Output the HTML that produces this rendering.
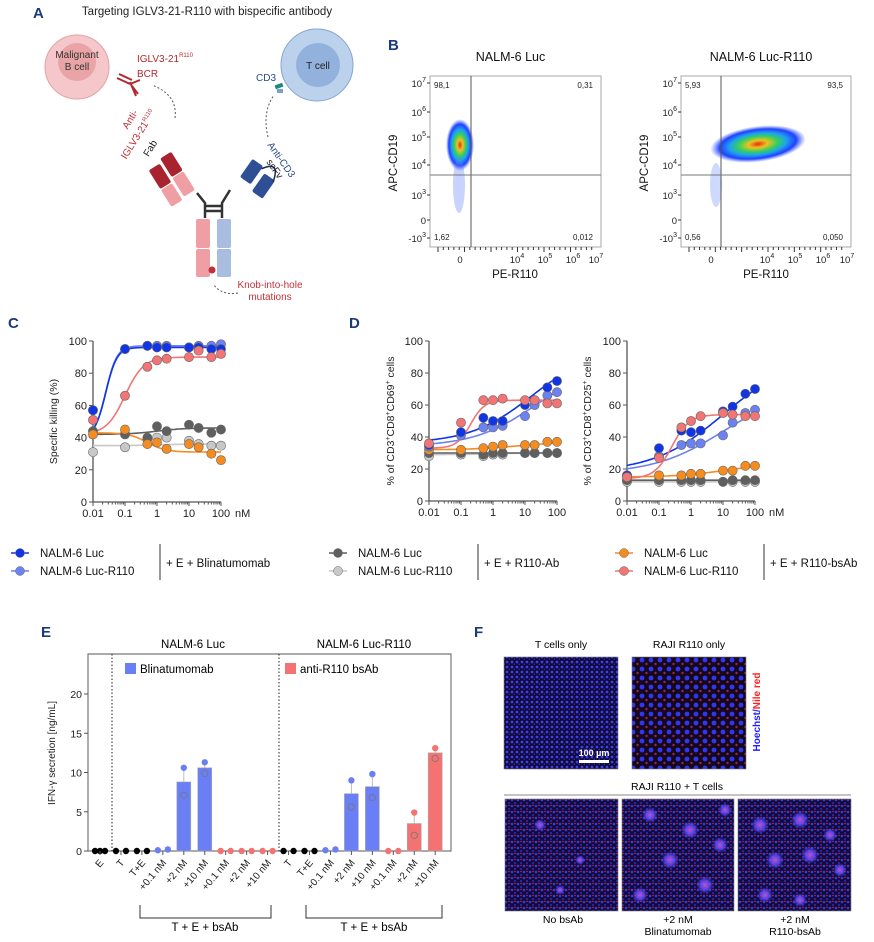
<!DOCTYPE html>
<html><head><meta charset="utf-8"><style>
html,body{margin:0;padding:0;background:#fff}
svg{display:block;font-family:"Liberation Sans",Arial,sans-serif}
</style></head><body>
<svg id="fig" width="874" height="942" viewBox="0 0 874 942" xmlns="http://www.w3.org/2000/svg">
<defs>
<pattern id="pT" width="5" height="5" patternUnits="userSpaceOnUse"><rect width="5" height="5" fill="#120a2a"/><circle cx="2" cy="2" r="1.4" fill="#3a3cff"/><circle cx="4.5" cy="4.3" r="0.9" fill="#2a2ad0"/></pattern>
<pattern id="pR" width="9" height="9" patternUnits="userSpaceOnUse"><rect width="9" height="9" fill="#14081a"/><circle cx="3" cy="3" r="2.4" fill="#3335f5"/><circle cx="7.5" cy="7" r="1.2" fill="#a0205a"/></pattern>
<pattern id="pM" width="6" height="6" patternUnits="userSpaceOnUse"><rect width="6" height="6" fill="#160a36"/><circle cx="2" cy="2" r="1.3" fill="#3438ee"/><circle cx="5" cy="5" r="1" fill="#2830c0"/><circle cx="5" cy="1.5" r="0.7" fill="#d0304a"/></pattern>
<radialGradient id="blob" cx="50%" cy="50%" r="50%"><stop offset="0" stop-color="#c050d0"/><stop offset="0.5" stop-color="#6a50ff" stop-opacity="0.8"/><stop offset="1" stop-color="#4040ff" stop-opacity="0"/></radialGradient>
<radialGradient id="flow" cx="50%" cy="50%" r="50%"><stop offset="0" stop-color="#e03010"/><stop offset="0.2" stop-color="#f0c020"/><stop offset="0.42" stop-color="#30d060"/><stop offset="0.6" stop-color="#20a0f0"/><stop offset="0.8" stop-color="#2040ff"/><stop offset="1" stop-color="#4060ff" stop-opacity="0"/></radialGradient>
</defs>

<!-- Panel A -->
<g>
<text x="33" y="18" font-size="15" font-weight="bold" fill="#1a3a7a">A</text>
<text x="207" y="15" font-size="11.5" text-anchor="middle" fill="#222">Targeting IGLV3-21-R110 with bispecific antibody</text>
<g>
<circle cx="77" cy="67" r="32" fill="#f6c7ca" stroke="#e2a2a6"/>
<circle cx="77" cy="62" r="19" fill="#e9a4a8"/>
<text x="77" y="58" font-size="10" text-anchor="middle" fill="#333">Malignant</text>
<text x="77" y="70" font-size="10" text-anchor="middle" fill="#333">B cell</text>
</g>
<g stroke="#b02a30" stroke-width="2" fill="none">
<path d="M117 78 L130 84 M119 74 L132 80 M130 84 L140 80 M132 86 L138 94 M130 82 L136 96"/>
</g>
<text x="137" y="62" font-size="10" fill="#b02a30">IGLV3-21<tspan font-size="6" dy="-5">R110</tspan></text>
<text x="137" y="77" font-size="10" fill="#b02a30">BCR</text>
<g>
<circle cx="317" cy="65" r="36" fill="#bcd1ec" stroke="#84a6d2"/>
<circle cx="318" cy="65" r="22" fill="#92b2dd"/>
<text x="318" y="69" font-size="10" text-anchor="middle" fill="#222">T cell</text>
</g>
<text x="256" y="81" font-size="10" fill="#2a4a8a">CD3</text>
<rect x="275" y="84" width="8" height="4" fill="#1e8a7a" transform="rotate(-20 279 86)"/>
<rect x="277" y="89" width="6" height="4" fill="#7aa0d0"/>
<path d="M175 118 Q178 95 152 85" stroke="#555" stroke-dasharray="2,2" fill="none"/>
<path d="M268 137 Q262 112 274 95" stroke="#555" stroke-dasharray="2,2" fill="none"/>
<path d="M238 293 Q222 296 213 284" stroke="#555" stroke-dasharray="2,2" fill="none"/>
<g>
<g transform="rotate(-32 190 180)">
<rect x="160" y="150" width="13" height="22" fill="#a8232e" rx="2"/>
<rect x="160" y="173" width="13" height="20" fill="#ef9fa3" rx="2"/>
<rect x="176" y="146" width="13" height="22" fill="#a8232e" rx="2"/>
<rect x="176" y="169" width="13" height="22" fill="#ef9fa3" rx="2"/>
</g>
<path d="M197 193 L205 203 L205 218 M230 190 L222 203 L222 218 M205 206 L222 206 M205 211 L222 211" stroke="#333" stroke-width="2.5" fill="none"/>
<g transform="rotate(35 255 185)">
<rect x="238" y="165" width="13" height="22" fill="#2f4f95" rx="2"/>
<rect x="256" y="170" width="13" height="22" fill="#2f4f95" rx="2"/>
<path d="M251 168 Q262 150 268 172" stroke="#1a2a55" stroke-width="1.5" fill="none"/>
</g>
<rect x="196" y="219" width="14" height="29" fill="#ef9fa3" rx="2"/>
<rect x="196" y="249" width="14" height="28" fill="#ef9fa3" rx="2"/>
<rect x="217" y="219" width="14" height="29" fill="#a9bde0" rx="2"/>
<rect x="217" y="249" width="14" height="28" fill="#a9bde0" rx="2"/>
<circle cx="212" cy="270" r="3.5" fill="#c0303a"/>
</g>
<text transform="translate(133 121) rotate(-58)" font-size="10" text-anchor="middle" fill="#c0303a">Anti-</text>
<text transform="translate(141 136) rotate(-58)" font-size="10" text-anchor="middle" fill="#c0303a">IGLV3-21<tspan font-size="6" dy="-4">R110</tspan></text>
<text transform="translate(153 150) rotate(-58)" font-size="10" text-anchor="middle" fill="#222">Fab</text>
<text transform="translate(267 145) rotate(55)" font-size="10" fill="#2a4a8a">Anti-CD3</text>
<text transform="translate(266 162) rotate(55)" font-size="10" fill="#222">scFv</text>
<text x="270" y="288" font-size="10" text-anchor="middle" fill="#c0303a">Knob-into-hole</text>
<text x="270" y="300" font-size="10" text-anchor="middle" fill="#c0303a">mutations</text>
</g>

<!-- Panel B -->
<g id="panelB">
<text x="388" y="50" font-size="15" font-weight="bold" fill="#1a3a7a">B</text>
</g>
<g id="panelC">
<text x="8" y="328" font-size="15" font-weight="bold" fill="#1a3a7a">C</text>
</g>
<g id="panelD">
<text x="349" y="328" font-size="15" font-weight="bold" fill="#1a3a7a">D</text>
</g>
<g id="legend"></g>
<g id="panelE">
<text x="41" y="637" font-size="15" font-weight="bold" fill="#1a3a7a">E</text>
</g>

<!-- Panel F -->
<g>
<text x="474" y="637" font-size="15" font-weight="bold" fill="#1a3a7a">F</text>
<text x="561" y="648" font-size="10.5" text-anchor="middle">T cells only</text>
<text x="689" y="648" font-size="10.5" text-anchor="middle">RAJI R110 only</text>
<rect x="504" y="657" width="114" height="112" fill="url(#pT)" stroke="#777" stroke-width="0.6"/>
<rect x="632" y="657" width="114" height="112" fill="url(#pR)" stroke="#777" stroke-width="0.6"/>
<text x="594" y="756" font-size="9" font-weight="bold" fill="#fff" text-anchor="middle">100 µm</text>
<rect x="579" y="760" width="30" height="3" fill="#fff"/>
<text transform="translate(760 712) rotate(-90)" font-size="10" font-weight="bold" text-anchor="middle"><tspan fill="#2020ff">Hoechst/</tspan><tspan fill="#ff2020">Nile red</tspan></text>
<text x="677" y="790" font-size="10.5" text-anchor="middle">RAJI R110 + T cells</text>
<line x1="504" y1="795" x2="851" y2="795" stroke="#888"/>
<rect x="505" y="799" width="113" height="112" fill="url(#pM)" stroke="#777" stroke-width="0.6"/>
<rect x="622" y="799" width="112" height="112" fill="url(#pM)" stroke="#777" stroke-width="0.6"/>
<rect x="738" y="799" width="113" height="112" fill="url(#pM)" stroke="#777" stroke-width="0.6"/>
<g fill="url(#blob)">
<circle cx="540" cy="825" r="6"/><circle cx="580" cy="860" r="5"/><circle cx="560" cy="890" r="5"/>
<circle cx="650" cy="815" r="8"/><circle cx="690" cy="830" r="9"/><circle cx="670" cy="860" r="9"/><circle cx="720" cy="845" r="8"/><circle cx="705" cy="885" r="9"/><circle cx="640" cy="895" r="8"/><circle cx="725" cy="810" r="7"/>
<circle cx="760" cy="825" r="9"/><circle cx="800" cy="820" r="9"/><circle cx="810" cy="855" r="9"/><circle cx="775" cy="860" r="9"/><circle cx="840" cy="870" r="7"/><circle cx="765" cy="895" r="8"/><circle cx="830" cy="835" r="7"/><circle cx="800" cy="900" r="7"/>
</g>
<text x="563" y="923" font-size="10.5" text-anchor="middle">No bsAb</text>
<text x="678" y="923" font-size="10.5" text-anchor="middle">+2 nM</text>
<text x="678" y="935" font-size="10.5" text-anchor="middle">Blinatumomab</text>
<text x="795" y="923" font-size="10.5" text-anchor="middle">+2 nM</text>
<text x="795" y="935" font-size="10.5" text-anchor="middle">R110-bsAb</text>
</g>
</svg>
<script>
const NS = "http://www.w3.org/2000/svg";
function mk(tag, attrs, parent, txt){const e=document.createElementNS(NS,tag);for(const k in attrs)e.setAttribute(k,attrs[k]);if(txt!==undefined)e.textContent=txt;parent.appendChild(e);return e;}

/* ---------- data: dose-response ---------- */
const doses = [0.01,0.1,0.5,1,2,10,20,50,100];
const killBlinLuc  = [57,95,97,96,96,96,96,95,95];
const killBlinR110 = [57,95,97,97,97,96,97,97,98];
const killAbLuc    = [44,42,40,47,44,48,46,43,45];
const killAbR110   = [31,34,39,40,40,38,36,35,35];
const killBsLuc    = [42,45,36,37,33,36,34,30,26];
const killBsR110   = [51,66,84,88,89,90,94,90,92];
const cd69BlinLuc  = [35,43,52,50,50,60,63,71,75];
const cd69BlinR110 = [34,41,46,46,47,53,60,66,68];
const cd69AbLuc    = [30,30,29,30,30,30,30,30,30];
const cd69AbR110   = [28,29,28,29,29,30,30,30,30];
const cd69BsLuc    = [32,32,33,34,35,35,35,37,37];
const cd69BsR110   = [36,49,63,63,64,63,63,61,61];
const cd25BlinLuc  = [16,33,44,43,44,56,59,67,70];
const cd25BlinR110 = [16,28,35,36,36,41,49,55,57];
const cd25AbLuc    = [13,13,13,13,13,12,13,13,13];
const cd25AbR110   = [12,12,12,12,12,12,12,12,12];
const cd25BsLuc    = [15,16,16,17,17,19,19,22,22];
const cd25BsR110   = [15,27,46,50,53,55,54,53,53];
/* 4PL fit parameters [bottom, top, logEC50, hill] */
const fitKill = [[40,96,-1.6,2.5],[40,97,-1.6,2.5],[42,46,0,1],[35,36,0,1],[43,31,-0.3,1.5],[42,90,-1.0,1.5]];
const fitCd69 = [[36,95,1.2,0.45],[34,85,1.3,0.45],[30,30,0,1],[29,30,0,1],[32,37,0.8,0.6],[33,63,-0.7,2]];
const fitCd25 = [[18,90,1.0,0.4],[17,70,1.0,0.4],[13,13,0,1],[12,12,0,1],[15,23,1.0,0.6],[14,54,-0.6,1.6]];
const yTicks = [0,20,40,60,80,100];
const xTickVals = [0.01,0.1,1,10,100];
const xTickLabels = ["0.01","0.1","1","10","100"];
const seriesColors = ["#1034e6","#6c82f2","#5f5f5f","#c8c8c8","#f68c20","#f27474"];
const seriesNames = ["blin-luc","blin-r110","ab-luc","ab-r110","bsab-luc","bsab-r110"];

function drawDR(parent, name, x0, y0, y100, dataSets, fits, ytitle, titleX, nm){
  const dec = 32;
  const xs = v => x0 + (Math.log10(v)+2)*dec;
  const ys = v => y0 - v*(y0-y100)/100;
  const g = mk('g',{},parent);
  
  
  const ax = mk('path',{d:`M${x0} ${ys(100)} L${x0} ${y0} L${xs(100)} ${y0}`,stroke:'#555','stroke-width':1.3,fill:'none'},g);
  
  
  yTicks.forEach(t=>{
    mk('line',{x1:x0-4,x2:x0,y1:ys(t),y2:ys(t),stroke:'#555'},g);
    const tl = mk('text',{x:x0-6,y:ys(t)+4,'font-size':11,'text-anchor':'end',fill:'#222'},g,String(t));
    
    
  });
  for(let d=-2; d<2; d++){ for(let m=2;m<10;m++){ const xv=x0+(d+2+Math.log10(m))*dec; mk('line',{x1:xv,x2:xv,y1:y0,y2:y0+2.5,stroke:'#555'},g);} }
  xTickVals.forEach((t,i)=>{
    mk('line',{x1:xs(t),x2:xs(t),y1:y0,y2:y0+4,stroke:'#555'},g);
    const tl = mk('text',{x:xs(t),y:y0+15,'font-size':11,'text-anchor':'middle',fill:'#222'},g,xTickLabels[i]);
    
    
  });
  if(nm){ const n = mk('text',{x:xs(100)+14,y:y0+15,'font-size':11,fill:'#222'},g,'nM');   }
  const yt = mk('text',{transform:`translate(${titleX} ${(y0+y100)/2}) rotate(-90)`,'font-size':10.5,'text-anchor':'middle',fill:'#222'},g);
  
  
  yt.innerHTML = ytitle;
  const order=[3,2,4,1,0,5];
  order.forEach(si=>{
    const f = fits[si]; let d='';
    for(let k=0;k<=80;k++){const lx=-2+k*4/80; const v=f[0]+(f[1]-f[0])/(1+Math.pow(10,(f[2]-lx)*f[3])); d+=(k?'L':'M')+(x0+(lx+2)*dec).toFixed(1)+' '+ys(v).toFixed(1);}
    const p = mk('path',{d:d,stroke:seriesColors[si],'stroke-width':1.6,fill:'none'},g);
    
    
  });
  order.forEach(si=>{
    dataSets[si].forEach((v,i)=>{
      const c = mk('circle',{cx:xs(doses[i]),cy:ys(v),r:4.6,fill:seriesColors[si],stroke:'#666','stroke-width':0.6},g);
      
      
    });
  });
}
drawDR(document.getElementById('panelC'),'killing-chart',93,502,341,[killBlinLuc,killBlinR110,killAbLuc,killAbR110,killBsLuc,killBsR110],fitKill,'Specific killing (%)',57,true);
drawDR(document.getElementById('panelD'),'cd69-chart',429,501,341,[cd69BlinLuc,cd69BlinR110,cd69AbLuc,cd69AbR110,cd69BsLuc,cd69BsR110],fitCd69,'% of CD3<tspan font-size="7" dy="-4">+</tspan><tspan dy="4">CD8</tspan><tspan font-size="7" dy="-4">+</tspan><tspan dy="4">CD69</tspan><tspan font-size="7" dy="-4">+</tspan><tspan dy="4"> cells</tspan>',394,false);
drawDR(document.getElementById('panelD'),'cd25-chart',627,501,341,[cd25BlinLuc,cd25BlinR110,cd25AbLuc,cd25AbR110,cd25BsLuc,cd25BsR110],fitCd25,'% of CD3<tspan font-size="7" dy="-4">+</tspan><tspan dy="4">CD8</tspan><tspan font-size="7" dy="-4">+</tspan><tspan dy="4">CD25</tspan><tspan font-size="7" dy="-4">+</tspan><tspan dy="4"> cells</tspan>',591,true);

/* ---------- legend ---------- */
const legendLabels = ["NALM-6 Luc","NALM-6 Luc-R110"];
const legendGroups = ["+ E + Blinatumomab","+ E + R110-Ab","+ E + R110-bsAb"];
const legendX = [20,338,624];
(function(){
  const L = document.getElementById('legend');
  legendGroups.forEach((gname,gi)=>{
    const bx = legendX[gi];
    [0,1].forEach(r=>{
      const y = 553 + r*18; const col = seriesColors[gi*2+r];
      mk('line',{x1:bx-9,x2:bx+9,y1:y,y2:y,stroke:col,'stroke-width':1.5},L);
      const c = mk('circle',{cx:bx,cy:y,r:4.5,fill:col,stroke:'#666','stroke-width':0.5},L);
      
      
      const t = mk('text',{x:bx+20,y:y+4,'font-size':11.5,fill:'#111'},L,legendLabels[r]);
      
      
    });
    const barX = bx + 140;
    mk('line',{x1:barX,x2:barX,y1:544,y2:580,stroke:'#333'},L);
    const gt = mk('text',{x:barX+6,y:567,'font-size':11.5,fill:'#111'},L,gname);
    
    
  });
})();

/* ---------- Panel B flow plots ---------- */
const flowTitles = ["NALM-6 Luc","NALM-6 Luc-R110"];
const flowQuadUL = ["98,1","5,93"];
const flowQuadUR = ["0,31","93,5"];
const flowQuadLL = ["1,62","0,56"];
const flowQuadLR = ["0,012","0,050"];
const flowYLabels = ["7","6","5","4","3","0","-3"];
(function(){
  const B = document.getElementById('panelB');
  const boxes=[[430,601,471],[681,851,721]];
  const yPos=[83,112,137,165,195,220,238];
  boxes.forEach((b,pi)=>{
    const [l,r,qv]=b; const t=76,bot=247,qh=175;
    const g = mk('g',{},B);
    
    
    const tt = mk('text',{x:(l+r)/2-5,y:61,'font-size':12.5,'text-anchor':'middle',fill:'#111'},g,flowTitles[pi]);
    
    
    mk('rect',{x:l,y:t,width:r-l,height:bot-t,fill:'#fff',stroke:'#aaa'},g);
    if(pi===0){
      mk('ellipse',{cx:460,cy:145,rx:14,ry:26,fill:'url(#flow)'},g);
      mk('ellipse',{cx:459,cy:185,rx:6,ry:28,fill:'#6080ff',opacity:0.35},g);
    } else {
      mk('ellipse',{cx:758,cy:144,rx:48,ry:18,fill:'url(#flow)',transform:'rotate(-7 758 144)'},g);
      mk('ellipse',{cx:716,cy:185,rx:6,ry:22,fill:'#6080ff',opacity:0.3},g);
    }
    mk('line',{x1:qv,x2:qv,y1:t,y2:bot,stroke:'#555'},g);
    mk('line',{x1:l,x2:r,y1:qh,y2:qh,stroke:'#777'},g);
    [[flowQuadUL,l+4,88,'start'],[flowQuadUR,r-8,88,'end'],[flowQuadLL,l+4,240,'start'],[flowQuadLR,r-8,240,'end']].forEach(q=>{
      const qt = mk('text',{x:q[1],y:q[2],'font-size':8,'text-anchor':q[3],fill:'#222'},g,q[0][pi]);
      
      
    });
    flowYLabels.forEach((lab,i)=>{
      const y=yPos[i];
      const yt = mk('text',{x:l-4,y:y+4,'font-size':9.5,'text-anchor':'end',fill:'#222'},g);
      
      
      if(lab==='0') yt.textContent='0'; else if(lab==='-3') yt.innerHTML='-10<tspan font-size="7" dy="-5">3</tspan>'; else yt.innerHTML='10<tspan font-size="7" dy="-5">'+lab+'</tspan>';
      mk('line',{x1:l-3,x2:l,y1:y,y2:y,stroke:'#333'},g);
    });
    const xPos = pi===0?[460,517,545,573,596]:[711,767,795,823,847];
    ["0","4","5","6","7"].forEach((lab,i)=>{
      const xt = mk('text',{x:xPos[i],y:263,'font-size':9.5,'text-anchor':'middle',fill:'#222'},g);
      
      
      xt.innerHTML = lab==='0'?'0':'10<tspan font-size="7" dy="-5">'+lab+'</tspan>';
    });
    for(let k=0;k<30;k++){const xx=l+8+k*(r-l-12)/30; mk('line',{x1:xx,x2:xx,y1:bot,y2:bot+3+(k%5===0?2:0),stroke:'#333'},g);}
    const xl = mk('text',{x:l+85,y:278,'font-size':11.5,'text-anchor':'middle',fill:'#111'},g,'PE-R110');
    
    
    const yl = mk('text',{transform:`translate(${l-33} 163) rotate(-90)`,'font-size':11.5,'text-anchor':'middle',fill:'#111'},g,'APC-CD19');
    
    
  });
})();

/* ---------- Panel E bar chart ---------- */
const eCats = ["E","T","T+E","+0.1 nM","+2 nM","+10 nM","+0.1 nM","+2 nM","+10 nM","T","T+E","+0.1 nM","+2 nM","+10 nM","+0.1 nM","+2 nM","+10 nM"];
const eKind = ["ctrl","ctrl","ctrl","blin","blin","blin","bs","bs","bs","ctrl","ctrl","blin","blin","blin","bs","bs","bs"];
const eBars = [0,0,0,0.1,8.8,10.6,0,0,0,0,0,0.1,7.3,8.2,0,3.5,12.5];
const ePtsA = [0,0,0,0.1,10.6,11.3,0,0,0,0,0,0.1,9.0,9.8,0,4.9,13.1];
const ePtsB = [0,0,0,0.2,7.1,9.9,0,0,0,0,0,0.2,5.6,6.8,0,2.0,11.8];
const eYTicks = [0,5,10,15,20];
(function(){
  const E = document.getElementById('panelE');
  const x0=88, right=451, y0=851, top=654, ppu=39.25/5;
  const ys = v => y0 - v*ppu;
  const cx = i => 100 + i*20.95;
  const colors = {ctrl:'#000', blin:'#6a7ff5', bs:'#f47272'};
  const frame = mk('path',{d:`M${x0} ${top} L${right} ${top} L${right} ${y0} L${x0} ${y0} Z`,stroke:'#777','stroke-width':1.2,fill:'none'},E);
  
  
  [112,279].forEach(x=>mk('line',{x1:x,x2:x,y1:top,y2:y0,stroke:'#222','stroke-dasharray':'1.5,2'},E));
  eYTicks.forEach(t=>{
    mk('line',{x1:x0-4,x2:x0,y1:ys(t),y2:ys(t),stroke:'#555'},E);
    const tl = mk('text',{x:x0-6,y:ys(t)+4,'font-size':10.5,'text-anchor':'end',fill:'#222'},E,String(t));
    
    
  });
  const yt = mk('text',{transform:`translate(55 753) rotate(-90)`,'font-size':10,'text-anchor':'middle',fill:'#222'},E,'IFN-γ secretion [ng/mL]');
  
  
  const g1 = mk('text',{x:193,y:648,'font-size':11.5,'text-anchor':'middle'},E,'NALM-6 Luc');
  
  
  const g2 = mk('text',{x:364,y:648,'font-size':11.5,'text-anchor':'middle'},E,'NALM-6 Luc-R110');
  
  
  mk('rect',{x:125,y:663,width:11,height:11,fill:colors.blin},E);
  const l1 = mk('text',{x:140,y:673,'font-size':11.5},E,'Blinatumomab');
  
  
  mk('rect',{x:285,y:663,width:11,height:11,fill:colors.bs},E);
  const l2 = mk('text',{x:300,y:673,'font-size':11.5},E,'anti-R110 bsAb');
  
  
  eCats.forEach((c,i)=>{
    const x=cx(i), col=colors[eKind[i]];
    if(eBars[i]>0.5){
      const b = mk('rect',{x:x-7,y:ys(eBars[i]),width:14,height:eBars[i]*ppu,fill:col,stroke:'#aaa','stroke-width':0.6},E);
      
      
      mk('line',{x1:x,x2:x,y1:ys(Math.max(ePtsA[i],ePtsB[i])),y2:ys(eBars[i]),stroke:'#bbb'},E);
    }
    const n = (i===0)?3:2;
    for(let k=0;k<n;k++){
      const v = k===0?ePtsA[i]:ePtsB[i];
      const off = n===3?(k-1)*5:(k===0?-5:5);
      const big = eBars[i]>0.5;
      const p = mk('circle',{cx:big?x:x+off,cy:ys(v),r:3.2,fill:(big&&k===1)?'none':col,stroke:(big&&k===1)?'#777':'none','stroke-width':0.8},E);
      
      
    }
    mk('line',{x1:x,x2:x,y1:y0,y2:y0+4,stroke:'#555'},E);
    const tl = mk('text',{transform:`translate(${x+4} ${y0+12}) rotate(-50)`,'font-size':10,'text-anchor':'end',fill:'#222'},E,c);
    
    
  });
  [[140,271,205],[306,442,374]].forEach(b=>{
    const br = mk('path',{d:`M${b[0]} 905 L${b[0]} 918 L${b[1]} 918 L${b[1]} 905`,stroke:'#333',fill:'none'},E);
    
    
    const bt = mk('text',{x:b[2],y:931,'font-size':11.5,'text-anchor':'middle'},E,'T + E + bsAb');
    
    
  });
})();
</script>
</body></html>
